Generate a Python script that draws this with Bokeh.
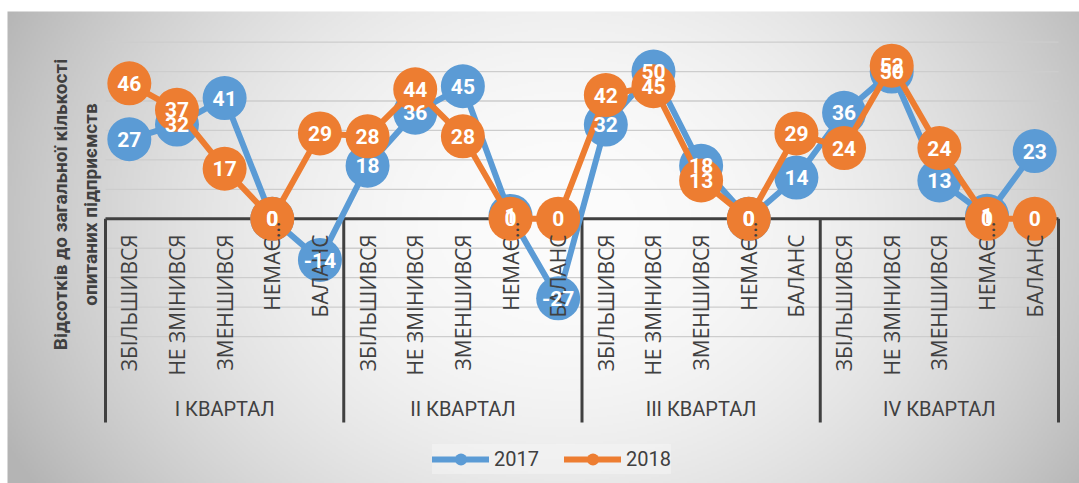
import numpy as np
from bokeh.plotting import figure
from bokeh.models import Range1d, ColumnDataSource, Legend, LegendItem
from bokeh.core.properties import value
from bokeh.embed import file_html
from bokeh.resources import INLINE

# ---------------- data ----------------
quarters = ["І КВАРТАЛ", "ІІ КВАРТАЛ", "ІІІ КВАРТАЛ", "ІV КВАРТАЛ"]
categories = ["ЗБІЛЬШИВСЯ", "НЕ ЗМІНИВСЯ", "ЗМЕНШИВСЯ", "НЕМАЄ...", "БАЛАНС"]
series_names = ["2017", "2018"]
values_2017 = [27, 32, 41, 0, -14, 18, 36, 45, 1, -27, 32, 50, 18, 0, 14, 36, 50, 13, 1, 23]
values_2018 = [46, 37, 17, 0, 29, 28, 44, 28, 0, 0, 42, 45, 13, 0, 29, 24, 52, 24, 0, 0]
y_title = "Відсотків до загальної кількості\nопитаних підприємств"
grid_ticks = list(range(-40, 61, 10))

# ---------------- layout (page pixels; the figure sits at the page origin) ----------------
W, H = 1079, 483
CHART_L, CHART_T, CHART_R, CHART_B = 7, 11, 1079, 483
PLOT_LEFT, PLOT_RIGHT = 105, 1058
ZERO_Y = 218.3
PX_PER_UNIT = 2.945

n_cat = len(categories)
n_q = len(quarters)
N = n_cat * n_q
cat_w = (PLOT_RIGHT - PLOT_LEFT) / N


def dx(px):
    return (px - PLOT_LEFT) / cat_w


def dy(py):
    return (ZERO_Y - py) / PX_PER_UNIT


x_range = Range1d(dx(0), dx(W))
y_range = Range1d(dy(H), dy(0))

p = figure(width=W, height=H, x_range=x_range, y_range=y_range,
           x_axis_type=None, y_axis_type=None, min_border=0,
           output_backend="svg", toolbar_location=None,
           outline_line_color=None)
p.background_fill_color = "white"
p.border_fill_color = "white"

# ---------------- gradient chart background ----------------
gh, gw = 236, 536
yy, xx = np.mgrid[0:gh, 0:gw]
u = (xx + 0.5) / gw
v = 1.0 - (yy + 0.5) / gh
r2 = ((u - 0.52) / 0.55) ** 2 + ((v - 0.45) / 1.0) ** 2
g = np.clip(252 - 64 * r2, 180, 255).astype(np.uint32)
img = (np.uint32(255) << np.uint32(24)) | (g << np.uint32(16)) | (g << np.uint32(8)) | g
p.image_rgba(image=[img.astype(np.uint32)], x=dx(CHART_L), y=dy(CHART_B),
             dw=dx(CHART_R) - dx(CHART_L), dh=dy(CHART_T) - dy(CHART_B))

# ---------------- gridlines ----------------
p.segment(x0=[0] * len(grid_ticks), x1=[N] * len(grid_ticks), y0=grid_ticks, y1=grid_ticks,
          line_color="#cdcdcd", line_width=1.3)

# ---------------- category axis (crossing at 0) ----------------
AXIS_COLOR = "#404040"
bottom_sep = dy(422)
sep_x = [q * n_cat for q in range(n_q + 1)]
p.segment(x0=sep_x, x1=sep_x, y0=[0] * len(sep_x), y1=[bottom_sep] * len(sep_x),
          line_color=AXIS_COLOR, line_width=3)
p.segment(x0=[0], x1=[N], y0=[0], y1=[0], line_color=AXIS_COLOR, line_width=3)

xs = np.arange(N) + 0.5

# ---------------- series ----------------
colors = {"2017": "#5B9BD5", "2018": "#ED7D31"}
series_vals = {"2017": values_2017, "2018": values_2018}
rends = {}
sources = {}
for name in series_names:
    vals = series_vals[name]
    src = ColumnDataSource(dict(x=xs, y=vals, label=[str(v) for v in vals]))
    sources[name] = src
    l = p.line("x", "y", source=src, line_color=colors[name], line_width=6,
               line_join="round", line_cap="round")
    s = p.scatter("x", "y", source=src, size=44, marker="circle",
                  fill_color=colors[name], line_color=None)
    rends[name] = (l, s)

# category labels
cat_labels = [c for _ in quarters for c in categories]
cat_y = [dy(221) if c.endswith("...") else dy(234) for c in cat_labels]
p.text(x=list(xs), y=cat_y, text=cat_labels, angle=np.pi / 2,
       text_align="right", text_baseline="middle",
       text_font=value("Open Sans"), text_font_size="21px", text_color=AXIS_COLOR)

# quarter labels
q_x = [(q + 0.5) * n_cat for q in range(n_q)]
p.text(x=q_x, y=[dy(408)] * n_q, text=quarters,
       text_align="center", text_baseline="middle",
       text_font=value("Roboto"), text_font_size="20px", text_color=AXIS_COLOR)

# data labels
for name in series_names:
    p.text("x", "y", text="label", source=sources[name],
           text_align="center", text_baseline="middle",
           text_font=value("Roboto"), text_font_style="bold",
           text_font_size="21px", text_color="white")

# axis title
p.text(x=[dx(75)], y=[dy(204)], text=[y_title], angle=np.pi / 2,
       text_align="center", text_baseline="middle",
       text_font=value("Roboto"), text_font_style="bold",
       text_font_size="19px", text_color=AXIS_COLOR, text_line_height=1.3)

# ---------------- legend ----------------
legend = Legend(items=[LegendItem(label=n, renderers=list(rends[n])) for n in series_names],
                orientation="horizontal", location=(432, 9),
                glyph_width=57, glyph_height=30, label_standoff=5, spacing=25,
                padding=8, margin=0,
                label_text_font="Roboto", label_text_font_size="20px",
                label_text_color=AXIS_COLOR,
                border_line_color=None,
                background_fill_color="#f6f6f6", background_fill_alpha=0.5)
p.add_layout(legend)

open("out.html", "w").write(file_html(p, INLINE))
